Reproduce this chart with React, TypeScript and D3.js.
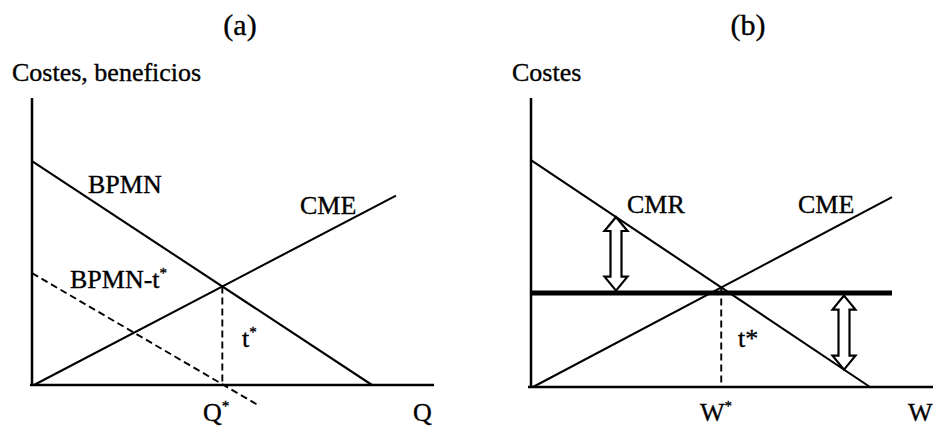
import React from "react";
import * as d3 from "d3";

// Panel (a): marginal net private benefit, marginal external cost, and the taxed benefit curve
const bpmn = [
  { x: 0, y: 78 },
  { x: 85, y: 0 },
];
const cmeA = [
  { x: 0.5, y: 0 },
  { x: 91, y: 66 },
];
const bpmnMinusT = [
  { x: 0, y: 39 },
  { x: 56.5, y: -7 },
];

// Panel (b): marginal abatement cost, marginal external cost and the tax level
const cmr = [
  { x: 0, y: 78.5 },
  { x: 84.75, y: 0 },
];
const cmeB = [
  { x: 0.5, y: 0 },
  { x: 90.25, y: 65.7 },
];
const taxLevel = 32.5;
const taxExtent = [0, 90.25];
const arrowAt = [21.25, 78.25];

const FONT = "'Liberation Serif', 'Times New Roman', serif";

type Pt = { x: number; y: number };

function intersect(a: Pt[], b: Pt[]): Pt {
  const [p1, p2] = a;
  const [p3, p4] = b;
  const d = (p1.x - p2.x) * (p3.y - p4.y) - (p1.y - p2.y) * (p3.x - p4.x);
  const t = ((p1.x - p3.x) * (p3.y - p4.y) - (p1.y - p3.y) * (p3.x - p4.x)) / d;
  return { x: p1.x + t * (p2.x - p1.x), y: p1.y + t * (p2.y - p1.y) };
}

function valueAt(seg: Pt[], x: number): number {
  const [a, b] = seg;
  return a.y + ((x - a.x) / (b.x - a.x)) * (b.y - a.y);
}

function doubleArrow(cx: number, y1: number, y2: number): string {
  const hw = 11.5;
  const sw = 5.5;
  const hl = 14;
  const p = d3.path();
  p.moveTo(cx, y1);
  p.lineTo(cx + hw, y1 + hl);
  p.lineTo(cx + sw, y1 + hl);
  p.lineTo(cx + sw, y2 - hl);
  p.lineTo(cx + hw, y2 - hl);
  p.lineTo(cx, y2);
  p.lineTo(cx - hw, y2 - hl);
  p.lineTo(cx - sw, y2 - hl);
  p.lineTo(cx - sw, y1 + hl);
  p.lineTo(cx - hw, y1 + hl);
  p.closePath();
  return p.toString();
}

const Star = ({ size = 15, dy = -10 }: { size?: number; dy?: number }) => (
  <tspan fontSize={size} dy={dy}>
    *
  </tspan>
);

export default function App() {
  // scales for panel (a)
  const xa = d3.scaleLinear().domain([0, 100]).range([32, 432]);
  const ya = d3.scaleLinear().domain([0, 100]).range([385, 98]);
  // scales for panel (b)
  const xb = d3.scaleLinear().domain([0, 100]).range([531, 931]);
  const yb = d3.scaleLinear().domain([0, 100]).range([387, 98]);

  const lineA = d3
    .line<Pt>()
    .x((d) => xa(d.x))
    .y((d) => ya(d.y));
  const lineB = d3
    .line<Pt>()
    .x((d) => xb(d.x))
    .y((d) => yb(d.y));

  const eqA = intersect(bpmn, cmeA);
  const eqB = intersect(cmr, cmeB);

  const stroke = "#000";
  const textStyle = { stroke: "#000", strokeWidth: 0.35 };

  return (
    <svg
      width={934}
      height={428}
      style={{ position: "absolute", left: 0, top: 0, background: "#fff" }}
      fontFamily={FONT}
    >
      <rect width={934} height={428} fill="#fff" />

      {/* Panel (a) */}
      <g style={textStyle}>
        <text x={240} y={35} fontSize={30} textAnchor="middle">
          (a)
        </text>
        <text x={12} y={81} fontSize={26}>
          Costes, beneficios
        </text>
      </g>
      <line x1={xa(0)} x2={xa(0)} y1={ya(0) + 1} y2={ya(100)} stroke={stroke} strokeWidth={2.5} />
      <line x1={xa(-0.5)} x2={xa(100.5)} y1={ya(0)} y2={ya(0)} stroke={stroke} strokeWidth={2.5} />
      <path d={lineA(bpmn) ?? ""} stroke={stroke} strokeWidth={2.1} fill="none" />
      <path d={lineA(cmeA) ?? ""} stroke={stroke} strokeWidth={2.1} fill="none" />
      <path
        d={lineA(bpmnMinusT) ?? ""}
        stroke={stroke}
        strokeWidth={1.9}
        strokeDasharray="7 4"
        fill="none"
      />
      <line
        x1={xa(eqA.x)}
        x2={xa(eqA.x)}
        y1={ya(eqA.y)}
        y2={ya(0)}
        stroke={stroke}
        strokeWidth={1.9}
        strokeDasharray="7 4"
      />
      <g style={textStyle}>
        <text x={88} y={193} fontSize={26}>
          BPMN
        </text>
        <text x={300} y={214} fontSize={26}>
          CME
        </text>
        <text x={70} y={288} fontSize={26}>
          BPMN-t
          <Star />
        </text>
        <text x={242} y={347} fontSize={26}>
          t
          <Star />
        </text>
        <text x={203} y={421} fontSize={26}>
          Q
          <Star />
        </text>
        <text x={413} y={421} fontSize={26}>
          Q
        </text>
      </g>

      {/* Panel (b) */}
      <g style={textStyle}>
        <text x={748} y={35} fontSize={30} textAnchor="middle">
          (b)
        </text>
        <text x={512} y={81} fontSize={26}>
          Costes
        </text>
      </g>
      <line x1={xb(0)} x2={xb(0)} y1={yb(0) + 1} y2={yb(100)} stroke={stroke} strokeWidth={2.5} />
      <line x1={xb(-0.75)} x2={xb(100.5)} y1={yb(0)} y2={yb(0)} stroke={stroke} strokeWidth={2.5} />
      <path d={lineB(cmr) ?? ""} stroke={stroke} strokeWidth={2.1} fill="none" />
      <path d={lineB(cmeB) ?? ""} stroke={stroke} strokeWidth={2.1} fill="none" />
      <line
        x1={xb(taxExtent[0])}
        x2={xb(taxExtent[1])}
        y1={yb(taxLevel)}
        y2={yb(taxLevel)}
        stroke={stroke}
        strokeWidth={5}
      />
      <line
        x1={xb(eqB.x)}
        x2={xb(eqB.x)}
        y1={yb(eqB.y)}
        y2={yb(0)}
        stroke={stroke}
        strokeWidth={1.9}
        strokeDasharray="7 4"
      />
      {arrowAt.map((ax, i) => {
        const curve = yb(valueAt(cmr, ax));
        const tax = yb(taxLevel);
        const top = Math.min(curve, tax) + (curve < tax ? 0 : 2.5);
        const bottom = Math.max(curve, tax) - (curve > tax ? 0 : 2.5);
        return (
          <path
            key={i}
            d={doubleArrow(xb(ax), top, bottom)}
            fill="#fff"
            stroke={stroke}
            strokeWidth={2.2}
            strokeLinejoin="miter"
          />
        );
      })}
      <g style={textStyle}>
        <text x={627} y={213} fontSize={26}>
          CMR
        </text>
        <text x={798} y={213} fontSize={26}>
          CME
        </text>
        <text x={738} y={347} fontSize={26}>
          t*
        </text>
        <text x={700} y={421} fontSize={26}>
          W
          <Star />
        </text>
        <text x={908} y={421} fontSize={26}>
          W
        </text>
      </g>
    </svg>
  );
}
